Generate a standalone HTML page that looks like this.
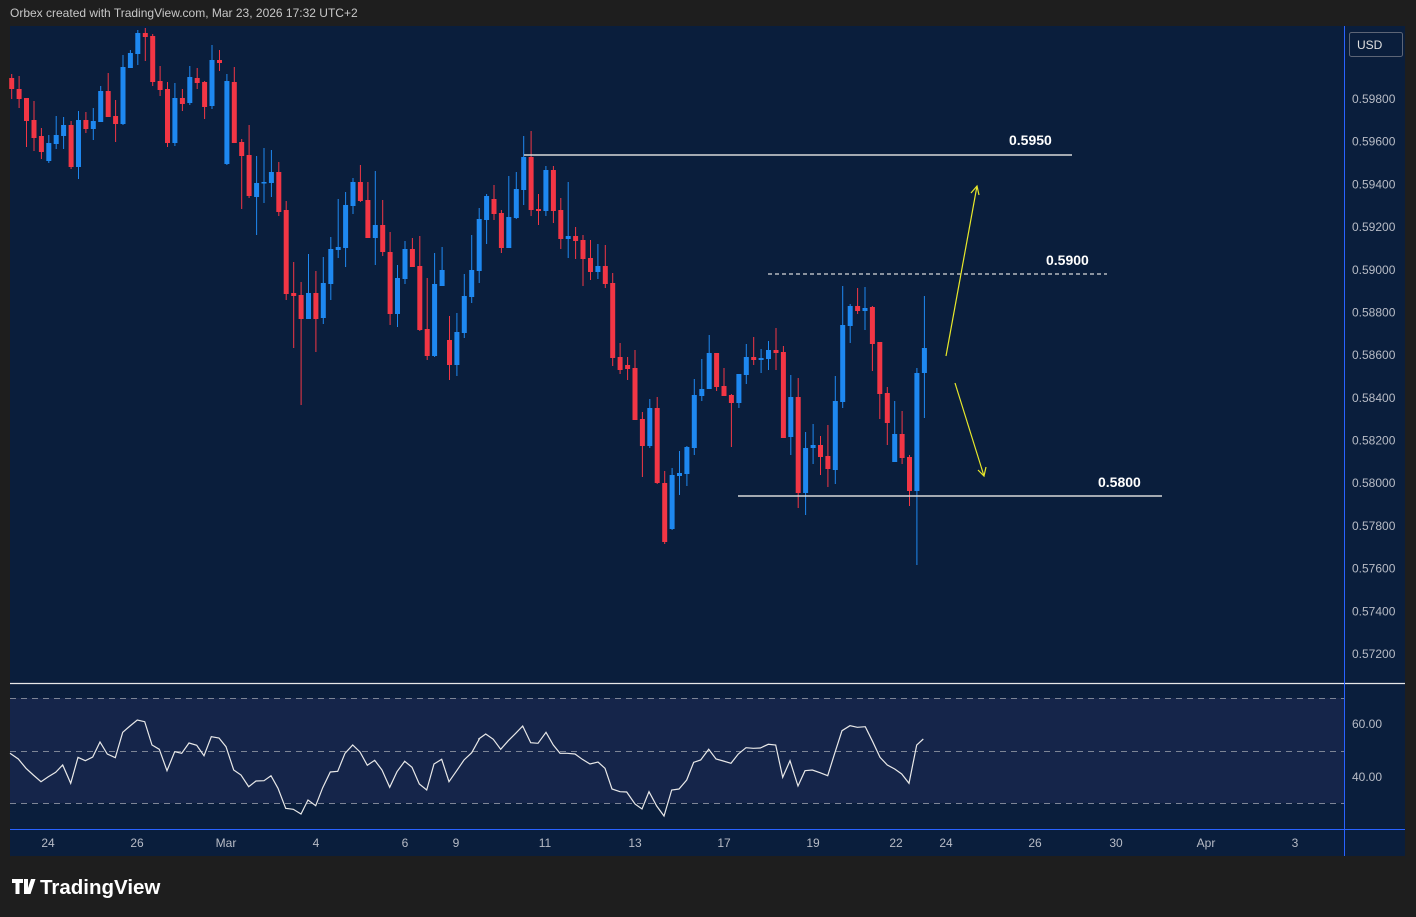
<!DOCTYPE html>
<html><head><meta charset="utf-8"><style>
html,body{margin:0;padding:0;background:#1e1e1e;width:1416px;height:917px;overflow:hidden;font-family:"Liberation Sans",sans-serif}
svg{position:absolute;left:0;top:0}
</style></head><body>
<svg id="s" width="1416" height="917" xmlns="http://www.w3.org/2000/svg">
<rect x="0" y="0" width="1416" height="917" fill="#1e1e1e"/>
<text x="10" y="17" font-size="12" fill="#c8c8c8" font-family="Liberation Sans, sans-serif">Orbex created with TradingView.com, Mar 23, 2026 17:32 UTC+2</text>
<rect x="10" y="26" width="1395" height="830" fill="#0a1e3c"/>
<rect x="10" y="698" width="1334" height="105" fill="#15254a"/>
<g stroke="#7d8596" stroke-width="1" stroke-dasharray="6,5">
<line x1="10" y1="698.5" x2="1344" y2="698.5"/>
<line x1="10" y1="751.5" x2="1344" y2="751.5"/>
<line x1="10" y1="803.5" x2="1344" y2="803.5"/>
</g>
<line x1="10" y1="683.5" x2="1405" y2="683.5" stroke="#e8e8e8" stroke-width="1.2"/>
<line x1="1344.5" y1="26" x2="1344.5" y2="856" stroke="#2962ff" stroke-width="1"/>
<line x1="10" y1="829.5" x2="1405" y2="829.5" stroke="#2962ff" stroke-width="1"/>
<g id="c"></g>
<polyline id="rsi" fill="none" stroke="#e8e8e8" stroke-width="1.2"/>
<line x1="524" y1="155" x2="1072" y2="155" stroke="#d8d8d8" stroke-width="1.5"/>
<line x1="768" y1="274" x2="1107" y2="274" stroke="#d8d8d8" stroke-width="1.3" stroke-dasharray="4,3"/>
<line x1="738" y1="496" x2="1162" y2="496" stroke="#d8d8d8" stroke-width="1.5"/>
<g font-size="14" font-weight="bold" fill="#ffffff">
<text x="1009" y="145">0.5950</text>
<text x="1046" y="265">0.5900</text>
<text x="1098" y="487">0.5800</text>
</g>
<g stroke="#e8e82a" stroke-width="1.2" fill="none">
<line x1="946" y1="356" x2="977" y2="186"/>
<polyline points="971,193 977,186 979,195"/>
<line x1="955" y1="383" x2="984" y2="476"/>
<polyline points="978,470 984,476 986,467"/>
</g>
<rect x="1349.5" y="32.5" width="53" height="24" rx="2" fill="#0a1e3c" stroke="#5d6576"/>
<text x="1357" y="49" font-size="12" fill="#e0e0e0">USD</text>
<g id="pl" font-size="12" fill="#b8bcc6"></g>
<g font-size="12" fill="#b8bcc6">
<text x="1352" y="728">60.00</text>
<text x="1352" y="781">40.00</text>
</g>
<g id="tl" font-size="12" fill="#b8bcc6" text-anchor="middle"></g>
<g fill="#ffffff">
<path d="M12 879h11v4h-3.5v11h-4v-11h-3.5z M24 879h4v15h-4z"/>
<path d="M31 879h4.5l-5 15h-4.5z" />
</g>
<text x="40" y="894" font-size="20.5" font-weight="bold" fill="#ffffff">TradingView</text>
</svg>
<script>
var D=[[78,89,74,99,'r'],[89,99,76,108,'r'],[98,121,98,147,'r'],[120,138,101,151,'r'],[136,152,128,159,'r'],[143,161,135,163,'b'],[135,144,116,149,'b'],[125,136,117,149,'b'],[125,167,121,169,'r'],[120,167,111,179,'b'],[120,129,112,133,'r'],[121,129,108,140,'b'],[91,122,86,122,'b'],[91,117,73,117,'r'],[116,124,100,142,'r'],[67,124,55,125,'b'],[53,68,50,68,'b'],[33,54,30,65,'b'],[33,37,28,61,'r'],[36,82,34,86,'r'],[81,90,66,96,'r'],[89,143,82,147,'r'],[98,143,83,146,'b'],[98,104,89,111,'r'],[77,103,66,105,'b'],[78,83,68,89,'r'],[82,107,81,119,'r'],[60,106,45,109,'b'],[60,63,50,71,'r'],[81,164,74,165,'b'],[82,143,67,143,'r'],[142,156,139,209,'r'],[155,196,125,198,'r'],[183,197,156,235,'b'],[182,183,148,203,'b'],[172,183,150,197,'b'],[172,212,162,216,'r'],[210,294,201,300,'r'],[293,296,262,348,'r'],[295,319,282,405,'r'],[293,319,254,319,'b'],[293,319,271,352,'r'],[283,318,257,324,'b'],[249,284,237,300,'b'],[247,250,199,258,'b'],[205,248,192,267,'b'],[182,206,178,214,'b'],[182,201,165,202,'r'],[200,238,182,238,'r'],[225,238,171,265,'b'],[225,252,200,256,'r'],[252,314,232,325,'r'],[278,314,265,327,'b'],[249,279,241,284,'b'],[249,267,238,267,'r'],[266,330,236,331,'r'],[329,356,278,360,'r'],[284,356,253,357,'b'],[270,286,247,286,'b'],[340,365,316,380,'r'],[332,365,313,376,'b'],[296,333,274,338,'b'],[270,297,235,303,'b'],[219,271,208,283,'b'],[196,220,194,244,'b'],[199,214,185,220,'r'],[213,248,210,253,'r'],[217,248,176,248,'b'],[189,218,172,219,'b'],[157,190,136,205,'b'],[157,210,131,216,'r'],[209,211,194,225,'r'],[170,211,166,216,'b'],[170,211,166,223,'r'],[210,239,198,249,'r'],[236,239,182,258,'b'],[236,241,227,259,'r'],[240,259,235,286,'r'],[258,272,240,280,'r'],[266,272,244,279,'b'],[266,284,245,288,'r'],[283,358,273,366,'r'],[357,370,343,374,'r'],[365,369,357,380,'r'],[368,420,350,420,'r'],[419,446,412,477,'r'],[408,446,399,448,'b'],[408,483,397,484,'r'],[483,542,471,544,'r'],[475,529,468,530,'b'],[473,476,451,495,'b'],[447,474,446,486,'b'],[395,448,379,455,'b'],[389,396,359,401,'b'],[353,389,335,389,'b'],[353,387,353,391,'r'],[386,396,368,396,'r'],[395,403,394,447,'r'],[374,403,374,408,'b'],[357,375,344,384,'b'],[357,360,337,365,'r'],[358,360,349,373,'b'],[350,359,341,370,'b'],[350,353,328,370,'r'],[352,438,346,438,'r'],[397,437,375,455,'b'],[397,493,378,508,'r'],[448,493,432,515,'b'],[445,448,424,464,'b'],[445,457,436,475,'r'],[456,469,425,487,'r'],[401,470,376,484,'b'],[325,402,286,408,'b'],[306,326,304,343,'b'],[306,311,288,314,'r'],[308,311,287,330,'b'],[307,344,306,371,'r'],[342,394,342,419,'r'],[393,423,387,445,'r'],[434,462,401,462,'b'],[434,458,411,464,'r'],[457,491,455,506,'r'],[373,491,368,565,'b'],[348,373,296,418,'b']];
var h='';
for(var i=0;i<D.length;i++){var d=D[i],x=11.7+i*7.42,col=d[4]=='r'?'#f23645':'#1e88f0';
var t=Math.min(d[0],d[1]),b=Math.max(d[0],d[1]);if(b-t<1.5)b=t+1.5;
h+='<line x1="'+x.toFixed(1)+'" y1="'+d[2]+'" x2="'+x.toFixed(1)+'" y2="'+d[3]+'" stroke="'+col+'" stroke-width="1"/>';
h+='<rect x="'+(x-2.5).toFixed(1)+'" y="'+t+'" width="5" height="'+(b-t)+'" fill="'+col+'"/>';}
document.getElementById('c').innerHTML=h;
var A=[[0,160],[25,177],[48,205],[70,225],[93,245],[115,230],[137,217],[158,195],[182,250],[204,172],[226,182],[248,171],[270,126],[292,162],[316,173],[338,97],[360,78],[382,60],[404,65],[426,135],[448,148],[471,212],[494,155],[515,160],[537,129],[560,136],[582,167],[604,110],[627,114],[648,140],[671,210],[693,225],[716,260],[738,243],[762,242],[783,227],[804,265],[827,325],[850,328],[873,342],[894,300],[917,317],[938,263],[961,216],[983,214],[1005,160],[1028,135],[1050,156],[1072,196],[1094,181],[1116,210],[1139,262],[1161,215],[1184,184],[1206,202],[1228,252],[1250,270],[1272,192],[1295,178],[1317,245],[1340,212],[1362,180],[1385,158],[1408,117]];
var B=[[25,118],[47,102],[70,118],[92,148],[115,122],[137,100],[158,78],[182,128],[204,130],[228,97],[250,135],[270,160],[292,160],[315,162],[337,178],[360,192],[384,186],[405,205],[426,267],[450,275],[470,276],[495,312],[516,327],[537,275],[560,318],[582,348],[605,270],[627,267],[650,240],[671,187],[692,180],[716,148],[738,177],[760,183],[783,190],[805,162],[828,143],[850,145],[871,144],[895,133],[917,135],[938,232],[960,182],[984,258],[1005,212],[1027,210],[1050,218],[1073,227],[1094,160],[1116,92],[1140,77],[1162,82],[1186,80],[1208,125],[1230,172],[1252,195],[1274,207],[1295,222],[1317,250],[1340,135],[1360,117]];
var p=[];A.forEach(function(a){p.push((a[0]/3+10).toFixed(1)+','+(a[1]/3+700).toFixed(1))});
B.forEach(function(a){p.push((a[0]/3+470).toFixed(1)+','+(a[1]/3+700).toFixed(1))});
document.getElementById('rsi').setAttribute('points',p.join(' '));
var pl='';for(var k=0;k<14;k++){var v=(0.598-k*0.002).toFixed(5);pl+='<text x="1352" y="'+(99+k*42.69+4).toFixed(1)+'">'+v+'</text>';}
document.getElementById('pl').innerHTML=pl;
var T=[['24',48],['26',137],['Mar',226],['4',316],['6',405],['9',456],['11',545],['13',635],['17',724],['19',813],['22',896],['24',946],['26',1035],['30',1116],['Apr',1206],['3',1295]];
var tl='';T.forEach(function(t){tl+='<text x="'+t[1]+'" y="847">'+t[0]+'</text>'});
document.getElementById('tl').innerHTML=tl;
</script>
</body></html>
